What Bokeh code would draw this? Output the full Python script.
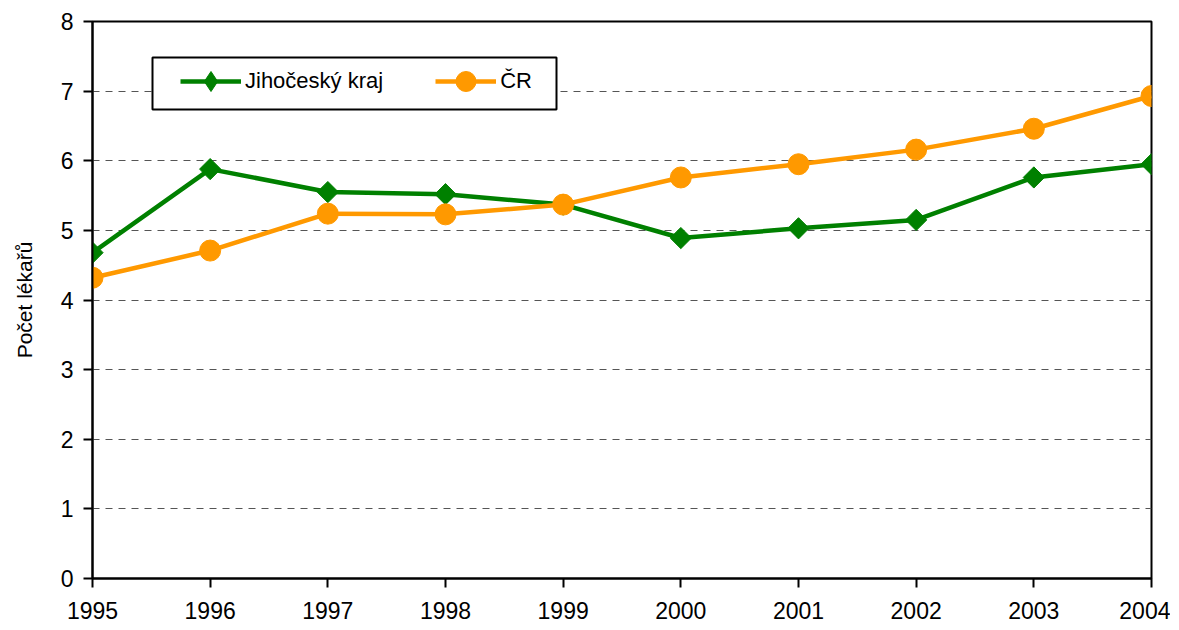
import math
from bokeh.plotting import figure
from bokeh.models import Legend, LegendItem, FixedTicker, Range1d, BoxAnnotation
from bokeh.embed import file_html
from bokeh.resources import INLINE

years = [1995, 1996, 1997, 1998, 1999, 2000, 2001, 2002, 2003, 2004]
jihocesky = [4.68, 5.88, 5.55, 5.52, 5.37, 4.89, 5.03, 5.15, 5.76, 5.95]
cr = [4.32, 4.71, 5.24, 5.23, 5.37, 5.76, 5.95, 6.16, 6.46, 6.93]
y_ticks = [0, 1, 2, 3, 4, 5, 6, 7, 8]
series_names = ["Jihočeský kraj", "ČR"]
y_title = "Počet lékařů"

FONT = "Liberation Sans"

p = figure(width=1170, height=622, output_backend="svg", toolbar_location=None,
           x_range=Range1d(1995, 2004), y_range=Range1d(0, 8),
           min_border_left=92, min_border_top=21, min_border_right=19, min_border_bottom=44)
p.outline_line_color = "black"
p.outline_line_width = 2
p.outline_line_alpha = 1

p.xaxis.ticker = FixedTicker(ticks=years)
p.yaxis.ticker = FixedTicker(ticks=y_ticks)
for ax in (p.xaxis[0], p.yaxis[0]):
    ax.axis_line_color = "black"
    ax.axis_line_width = 2
    ax.major_tick_line_color = "black"
    ax.major_tick_line_width = 2
    ax.major_tick_out = 9
    ax.major_tick_in = 0
    ax.minor_tick_line_color = None
    ax.major_label_text_font = FONT
    ax.major_label_text_font_size = "23px"
    ax.major_label_text_color = "black"
p.xaxis.major_label_standoff = 14
p.yaxis.major_label_standoff = 10
p.yaxis.axis_label = y_title
p.yaxis.axis_label_text_font = FONT
p.yaxis.axis_label_text_font_size = "21px"
p.yaxis.axis_label_text_font_style = "normal"
p.yaxis.axis_label_text_color = "black"
p.yaxis.axis_label_standoff = 22

p.xgrid.grid_line_color = None
p.ygrid.grid_line_color = "#555555"
p.ygrid.grid_line_dash = "7 6"
p.ygrid.grid_line_width = 1

green = "#008000"
orange = "#FF9900"

p.line(years, jihocesky, line_color=green, line_width=4.5)
p.scatter(years, jihocesky, marker="square", size=15, angle=math.pi / 4,
          fill_color=green, line_color=green)
p.line(years, cr, line_color=orange, line_width=4.5)
p.scatter(years, cr, marker="circle", size=21, fill_color=orange, line_color=orange)

# legend-only glyphs (a single NaN point, so nothing is drawn in the plot)
nan = [float("nan")]
lg1 = p.line(nan, nan, line_color=green, line_width=4.5)
lm1 = p.scatter(nan, nan, marker="diamond", size=20, fill_color=green, line_color=green)
lg2 = p.line(nan, nan, line_color=orange, line_width=4.5)
lm2 = p.scatter(nan, nan, marker="circle", size=20, fill_color=orange, line_color=orange)

frame_box = BoxAnnotation(left=60, right=464, top=521, bottom=469,
                          left_units="screen", right_units="screen",
                          top_units="screen", bottom_units="screen",
                          fill_color="white", fill_alpha=1,
                          line_color="black", line_width=2, line_alpha=1)
p.add_layout(frame_box)

legend = Legend(items=[LegendItem(label=series_names[0], renderers=[lg1, lm1]),
                       LegendItem(label=series_names[1], renderers=[lg2, lm2])],
                orientation="horizontal", location=(88, 472),
                border_line_color=None, background_fill_alpha=0,
                label_text_font=FONT, label_text_font_size="22px",
                label_text_color="black",
                glyph_width=61, glyph_height=50, spacing=52, padding=0,
                margin=0, label_standoff=4)
p.add_layout(legend, "center")

open("out.html", "w").write(file_html(p, INLINE))
